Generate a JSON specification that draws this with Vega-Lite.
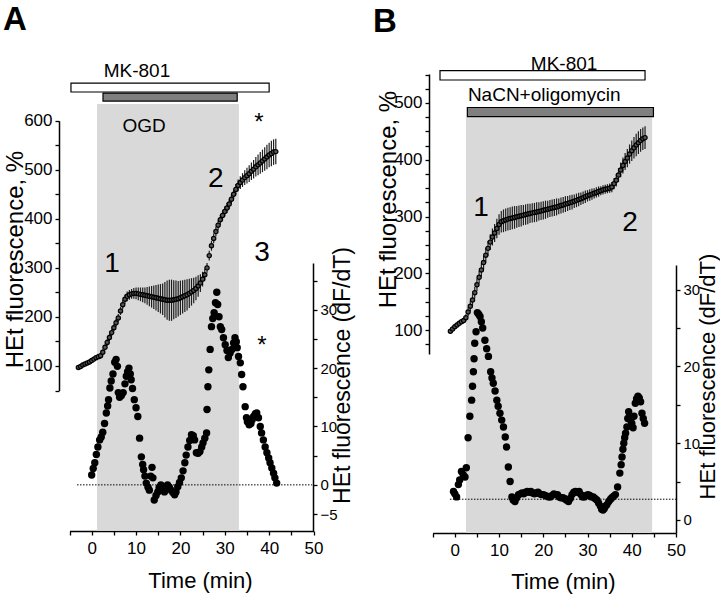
{
"$schema": "https://vega.github.io/schema/vega-lite/v6.json",
"width": 720, "height": 599, "autosize": {"type": "none"}, "padding": 0,
"background": "white",
"config": {"view": {"stroke": null},
  "font": "Liberation Sans, Arial, sans-serif",
  "axis": {"grid": false, "domainColor": "#000", "tickColor": "#000", "labelColor": "#000", "titleColor": "#000",
    "domainWidth": 1.5, "tickWidth": 1.3, "tickSize": 4, "labelFontSize": 17, "labelPadding": 3,
    "labelFont": "Liberation Sans, Arial, sans-serif", "zindex": 1,
    "titleFont": "Liberation Sans, Arial, sans-serif", "titleFontWeight": "normal",
    "labelOverlap": false, "labelFlush": false}},
"datasets": {
  "curveA": [
    {"t":-3,"v":97,"lo":93,"hi":101},{"t":-2.5,"v":99,"lo":95,"hi":103},{"t":-2,"v":102,"lo":98,"hi":106},{"t":-1.5,"v":104,"lo":100,"hi":108},
    {"t":-1,"v":106,"lo":102,"hi":110},{"t":-0.5,"v":108,"lo":104,"hi":112},{"t":0,"v":111,"lo":106,"hi":116},{"t":0.5,"v":114,"lo":109,"hi":119},
    {"t":1,"v":117,"lo":112,"hi":122},{"t":1.5,"v":119,"lo":114,"hi":124},{"t":2,"v":121,"lo":115,"hi":127},{"t":2.5,"v":128,"lo":122,"hi":134},
    {"t":3,"v":138,"lo":132,"hi":144},{"t":3.5,"v":148,"lo":141,"hi":155},{"t":4,"v":158,"lo":151,"hi":165},{"t":4.5,"v":168,"lo":161,"hi":175},
    {"t":5,"v":178,"lo":171,"hi":185},{"t":5.5,"v":188,"lo":180,"hi":196},{"t":6,"v":198,"lo":190,"hi":206},{"t":6.5,"v":212,"lo":204,"hi":220},
    {"t":7,"v":225,"lo":216,"hi":234},{"t":7.5,"v":236,"lo":227,"hi":245},{"t":8,"v":242,"lo":232,"hi":252},{"t":8.5,"v":245,"lo":235,"hi":255},
    {"t":9,"v":247,"lo":237,"hi":257},{"t":9.5,"v":248,"lo":237,"hi":259},{"t":10,"v":248,"lo":236,"hi":260},{"t":10.5,"v":247,"lo":234,"hi":260},
    {"t":11,"v":246,"lo":232,"hi":260},{"t":11.5,"v":245,"lo":230,"hi":260},{"t":12,"v":244,"lo":228,"hi":260},{"t":12.5,"v":243,"lo":225,"hi":261},
    {"t":13,"v":242,"lo":222,"hi":262},{"t":13.5,"v":241,"lo":219,"hi":263},{"t":14,"v":240,"lo":216,"hi":264},{"t":14.5,"v":239,"lo":213,"hi":265},
    {"t":15,"v":238,"lo":210,"hi":266},{"t":15.5,"v":237,"lo":207,"hi":267},{"t":16,"v":236,"lo":204,"hi":268},{"t":16.5,"v":235,"lo":199,"hi":271},
    {"t":17,"v":234,"lo":194,"hi":274},{"t":17.5,"v":234,"lo":192,"hi":276},{"t":18,"v":234,"lo":192,"hi":276},{"t":18.5,"v":235,"lo":195,"hi":275},
    {"t":19,"v":236,"lo":198,"hi":274},{"t":19.5,"v":237,"lo":201,"hi":273},{"t":20,"v":239,"lo":204,"hi":274},{"t":20.5,"v":241,"lo":207,"hi":275},
    {"t":21,"v":243,"lo":210,"hi":276},{"t":21.5,"v":245,"lo":213,"hi":277},{"t":22,"v":248,"lo":218,"hi":278},{"t":22.5,"v":251,"lo":223,"hi":279},
    {"t":23,"v":254,"lo":228,"hi":280},{"t":23.5,"v":258,"lo":234,"hi":282},{"t":24,"v":263,"lo":241,"hi":285},{"t":24.5,"v":269,"lo":251,"hi":287},
    {"t":25,"v":277,"lo":262,"hi":292},{"t":25.5,"v":286,"lo":274,"hi":298},{"t":26,"v":300,"lo":290,"hi":310},{"t":26.5,"v":325,"lo":315,"hi":335},
    {"t":27,"v":345,"lo":335,"hi":355},{"t":27.5,"v":360,"lo":350,"hi":370},{"t":28,"v":374,"lo":364,"hi":384},{"t":28.5,"v":387,"lo":377,"hi":397},
    {"t":29,"v":398,"lo":388,"hi":408},{"t":29.5,"v":407,"lo":397,"hi":417},{"t":30,"v":415,"lo":405,"hi":425},{"t":30.5,"v":422,"lo":412,"hi":432},
    {"t":31,"v":430,"lo":420,"hi":440},{"t":31.5,"v":440,"lo":430,"hi":450},{"t":32,"v":450,"lo":440,"hi":460},{"t":32.5,"v":460,"lo":449,"hi":471},
    {"t":33,"v":468,"lo":456,"hi":480},{"t":33.5,"v":474,"lo":461,"hi":487},{"t":34,"v":479,"lo":465,"hi":493},{"t":34.5,"v":484,"lo":469,"hi":499},
    {"t":35,"v":488,"lo":472,"hi":504},{"t":35.5,"v":492,"lo":475,"hi":509},{"t":36,"v":497,"lo":479,"hi":515},{"t":36.5,"v":501,"lo":482,"hi":520},
    {"t":37,"v":506,"lo":486,"hi":526},{"t":37.5,"v":510,"lo":489,"hi":531},{"t":38,"v":514,"lo":492,"hi":536},{"t":38.5,"v":518,"lo":495,"hi":541},
    {"t":39,"v":522,"lo":498,"hi":546},{"t":39.5,"v":526,"lo":501,"hi":551},{"t":40,"v":530,"lo":505,"hi":555},{"t":40.5,"v":533,"lo":507,"hi":559},
    {"t":41,"v":536,"lo":510,"hi":562},{"t":41.5,"v":537,"lo":511,"hi":563}],
  "dotsA": [
    {"t":0,"d":1.7},{"t":0.35,"d":2.8},{"t":0.7,"d":3.8},{"t":1.05,"d":5.2},{"t":1.4,"d":6.5},{"t":1.8,"d":7.7},{"t":2.15,"d":8.2},{"t":2.5,"d":9},
    {"t":2.9,"d":10.5},{"t":3.3,"d":12.3},{"t":3.6,"d":13.5},{"t":3.8,"d":14.6},{"t":4.1,"d":16.6},{"t":4.4,"d":17.8},{"t":4.8,"d":19},{"t":5.2,"d":21},
    {"t":5.5,"d":21.5},{"t":5.8,"d":20.3},{"t":6.0,"d":15.8},{"t":6.3,"d":15},{"t":6.7,"d":15.3},{"t":7.1,"d":15.8},{"t":7.5,"d":17.3},{"t":7.8,"d":18.6},
    {"t":8.1,"d":19.4},{"t":8.4,"d":20},{"t":8.7,"d":19},{"t":8.9,"d":18},{"t":9.2,"d":16.5},{"t":9.6,"d":14.6},{"t":10.0,"d":13.2},{"t":10.4,"d":11.7},
    {"t":10.8,"d":8},{"t":11.2,"d":4.8},{"t":11.5,"d":3.5},{"t":11.7,"d":2.6},{"t":12.0,"d":1.5},{"t":12.3,"d":0.3},{"t":12.7,"d":-0.4},{"t":13.0,"d":-0.9},
    {"t":13.3,"d":1.5},{"t":13.6,"d":3},{"t":13.8,"d":1.2},{"t":14.1,"d":-2.6},{"t":14.5,"d":-1.8},{"t":14.9,"d":-1.2},{"t":15.2,"d":-0.5},{"t":15.6,"d":0},
    {"t":16.0,"d":-0.6},{"t":16.4,"d":-1.2},{"t":16.8,"d":-0.5},{"t":17.1,"d":0},{"t":17.5,"d":-0.4},{"t":17.9,"d":-0.9},{"t":18.3,"d":-1.3},{"t":18.7,"d":-1.7},
    {"t":19.0,"d":-1.2},{"t":19.4,"d":-0.3},{"t":19.8,"d":0.4},{"t":20.2,"d":1.2},{"t":20.6,"d":2.4},{"t":21.0,"d":3.8},{"t":21.3,"d":5.1},{"t":21.7,"d":6.5},
    {"t":22.1,"d":7.6},{"t":22.5,"d":8.6},{"t":22.9,"d":8.4},{"t":23.2,"d":7.7},{"t":23.6,"d":5.5},{"t":24.0,"d":5.4},{"t":24.4,"d":5.7},{"t":24.8,"d":6.5},
    {"t":25.1,"d":7.2},{"t":25.5,"d":8},{"t":25.9,"d":8.9},{"t":26.0,"d":12.9},{"t":26.2,"d":16.8},{"t":26.4,"d":19.7},{"t":26.7,"d":23.2},{"t":27.0,"d":27.1},
    {"t":27.3,"d":28.5},{"t":27.6,"d":29.5},{"t":27.9,"d":31.2},{"t":28.2,"d":33.0},{"t":28.4,"d":30.9},{"t":28.7,"d":28.8},{"t":29.0,"d":27.1},{"t":29.3,"d":26.6},
    {"t":29.7,"d":25.2},{"t":30.1,"d":24.0},{"t":30.5,"d":23.0},{"t":30.8,"d":21.8},{"t":31.2,"d":22.6},{"t":31.6,"d":23.2},{"t":32.0,"d":24.3},{"t":32.3,"d":25.2},
    {"t":32.6,"d":24.5},{"t":32.8,"d":23.5},{"t":33.1,"d":22.0},{"t":33.5,"d":20.9},{"t":33.8,"d":18.9},{"t":34.1,"d":16.8},{"t":34.6,"d":13.4},{"t":34.9,"d":11.5},
    {"t":35.1,"d":10.8},{"t":35.5,"d":10.3},{"t":35.9,"d":10.5},{"t":36.2,"d":11.2},{"t":36.5,"d":11.7},{"t":36.9,"d":12.2},{"t":37.2,"d":12.3},{"t":37.6,"d":11.5},
    {"t":38.0,"d":10},{"t":38.3,"d":8.9},{"t":38.7,"d":7.7},{"t":39.1,"d":6.5},{"t":39.5,"d":5.5},{"t":39.9,"d":4.6},{"t":40.2,"d":3.8},{"t":40.6,"d":2.9},
    {"t":41.0,"d":2.0},{"t":41.3,"d":1.2},{"t":41.7,"d":0.3}],
  "curveB": [
    {"t":-1,"v":98,"lo":94,"hi":102},{"t":-0.5,"v":102,"lo":98,"hi":106},{"t":0,"v":106,"lo":102,"hi":110},{"t":0.5,"v":109,"lo":105,"hi":113},
    {"t":1,"v":112,"lo":108,"hi":116},{"t":1.5,"v":115,"lo":111,"hi":119},{"t":2,"v":117,"lo":112,"hi":122},{"t":2.5,"v":122,"lo":116,"hi":128},
    {"t":3,"v":132,"lo":124,"hi":140},{"t":3.5,"v":142,"lo":133,"hi":151},{"t":4,"v":153,"lo":143,"hi":163},{"t":4.5,"v":166,"lo":156,"hi":176},
    {"t":5,"v":180,"lo":169,"hi":191},{"t":5.5,"v":193,"lo":182,"hi":204},{"t":6,"v":206,"lo":194,"hi":218},{"t":6.5,"v":219,"lo":207,"hi":231},
    {"t":7,"v":232,"lo":219,"hi":245},{"t":7.5,"v":244,"lo":231,"hi":257},{"t":8,"v":255,"lo":241,"hi":269},{"t":8.5,"v":264,"lo":249,"hi":279},
    {"t":9,"v":271,"lo":255,"hi":287},{"t":9.5,"v":279,"lo":262,"hi":296},{"t":10,"v":286,"lo":268,"hi":304},{"t":10.5,"v":291,"lo":272,"hi":310},
    {"t":11,"v":292.5,"lo":272.5,"hi":312.5},{"t":11.5,"v":294,"lo":274,"hi":314},{"t":12,"v":295.5,"lo":275.5,"hi":315.5},{"t":12.5,"v":296.5,"lo":276.5,"hi":316.5},
    {"t":13,"v":297.5,"lo":277.5,"hi":317.5},{"t":13.5,"v":298.5,"lo":278.5,"hi":318.5},{"t":14,"v":299.5,"lo":280.5,"hi":318.5},{"t":14.5,"v":300.5,"lo":281.5,"hi":319.5},
    {"t":15,"v":301.5,"lo":282.5,"hi":320.5},{"t":15.5,"v":302.5,"lo":284.5,"hi":320.5},{"t":16,"v":303.5,"lo":285.5,"hi":321.5},{"t":16.5,"v":304.5,"lo":286.5,"hi":322.5},
    {"t":17,"v":305.5,"lo":288.5,"hi":322.5},{"t":17.5,"v":306.5,"lo":289.5,"hi":323.5},{"t":18,"v":307,"lo":290,"hi":324},{"t":18.5,"v":308,"lo":291,"hi":325},
    {"t":19,"v":309,"lo":293,"hi":325},{"t":19.5,"v":310,"lo":294,"hi":326},{"t":20,"v":311,"lo":295,"hi":327},{"t":20.5,"v":312,"lo":296,"hi":328},
    {"t":21,"v":313,"lo":298,"hi":328},{"t":21.5,"v":314,"lo":299,"hi":329},{"t":22,"v":315,"lo":300,"hi":330},{"t":22.5,"v":316,"lo":301,"hi":331},
    {"t":23,"v":317,"lo":302,"hi":332},{"t":23.5,"v":318,"lo":304,"hi":332},{"t":24,"v":319.5,"lo":305.5,"hi":333.5},{"t":24.5,"v":320.5,"lo":306.5,"hi":334.5},
    {"t":25,"v":322,"lo":308,"hi":336},{"t":25.5,"v":323,"lo":310,"hi":336},{"t":26,"v":324.5,"lo":311.5,"hi":337.5},{"t":26.5,"v":325.5,"lo":312.5,"hi":338.5},
    {"t":27,"v":327,"lo":315,"hi":339},{"t":27.5,"v":328.5,"lo":316.5,"hi":340.5},{"t":28,"v":330,"lo":318,"hi":342},{"t":28.5,"v":331.5,"lo":320.5,"hi":342.5},
    {"t":29,"v":333,"lo":322,"hi":344},{"t":29.5,"v":335,"lo":324,"hi":346},{"t":30,"v":336.5,"lo":326.5,"hi":346.5},{"t":30.5,"v":338,"lo":328,"hi":348},
    {"t":31,"v":339.5,"lo":329.5,"hi":349.5},{"t":31.5,"v":341,"lo":332,"hi":350},{"t":32,"v":342.5,"lo":333.5,"hi":351.5},{"t":32.5,"v":344,"lo":335,"hi":353},
    {"t":33,"v":345.5,"lo":337.5,"hi":353.5},{"t":33.5,"v":347,"lo":339,"hi":355},{"t":34,"v":348,"lo":340,"hi":356},{"t":34.5,"v":349,"lo":341,"hi":357},
    {"t":35,"v":350,"lo":342,"hi":358},{"t":35.5,"v":352,"lo":343,"hi":361},{"t":36,"v":358,"lo":348,"hi":368},{"t":36.5,"v":364,"lo":353,"hi":375},
    {"t":37,"v":373,"lo":361,"hi":385},{"t":37.5,"v":382,"lo":369,"hi":395},{"t":38,"v":390,"lo":376,"hi":404},{"t":38.5,"v":397,"lo":382,"hi":412},
    {"t":39,"v":403,"lo":387,"hi":419},{"t":39.5,"v":410,"lo":393,"hi":427},{"t":40,"v":416,"lo":398,"hi":434},{"t":40.5,"v":421,"lo":402,"hi":440},
    {"t":41,"v":426,"lo":406,"hi":446},{"t":41.5,"v":430,"lo":410,"hi":450},{"t":42,"v":434,"lo":414,"hi":454},{"t":42.5,"v":437,"lo":417,"hi":457},
    {"t":43,"v":439,"lo":419,"hi":459}],
  "dotsB": [
    {"t":-0.3,"d":3.7},{"t":0.0,"d":3.4},{"t":0.4,"d":3.0},{"t":0.8,"d":4.6},{"t":1.1,"d":5.2},{"t":1.5,"d":6.3},{"t":1.9,"d":5.9},{"t":2.3,"d":5.6},
    {"t":2.6,"d":6.8},{"t":3.0,"d":10.7},{"t":3.4,"d":13.5},{"t":3.8,"d":15.6},{"t":4.0,"d":17.4},{"t":4.2,"d":19.3},{"t":4.35,"d":21},{"t":4.5,"d":23.0},
    {"t":4.8,"d":24.5},{"t":5.1,"d":27.0},{"t":5.4,"d":26.8},{"t":5.7,"d":26.5},{"t":6.0,"d":25.8},{"t":6.3,"d":25.0},{"t":6.8,"d":23.4},{"t":7.2,"d":22.3},
    {"t":7.6,"d":21.3},{"t":8.1,"d":19.3},{"t":8.4,"d":18.5},{"t":8.7,"d":17.8},{"t":9.1,"d":16.8},{"t":9.5,"d":15.6},{"t":9.8,"d":14.8},{"t":10.2,"d":13.9},
    {"t":10.6,"d":13.0},{"t":11.0,"d":12.1},{"t":11.4,"d":10.8},{"t":11.7,"d":9.5},{"t":12.1,"d":6.9},{"t":12.5,"d":5.0},{"t":12.9,"d":3.0},{"t":13.2,"d":2.6},
    {"t":13.6,"d":2.4},{"t":14.0,"d":2.9},{"t":14.4,"d":3.3},{"t":14.8,"d":3.4},{"t":15.2,"d":3.5},{"t":15.6,"d":3.4},{"t":16.0,"d":3.6},{"t":16.4,"d":3.7},
    {"t":16.8,"d":3.6},{"t":17.2,"d":3.7},{"t":17.6,"d":3.5},{"t":18.0,"d":3.4},{"t":18.4,"d":3.5},{"t":18.8,"d":3.6},{"t":19.2,"d":3.4},{"t":19.6,"d":3.3},
    {"t":20.0,"d":3.3},{"t":20.4,"d":3.2},{"t":20.8,"d":3.1},{"t":21.2,"d":3.0},{"t":21.6,"d":3.0},{"t":22.0,"d":3.2},{"t":22.4,"d":3.4},{"t":22.8,"d":3.3},
    {"t":23.2,"d":3.3},{"t":23.6,"d":3.0},{"t":24.0,"d":2.9},{"t":24.4,"d":2.9},{"t":24.8,"d":2.8},{"t":25.2,"d":2.6},{"t":25.7,"d":2.4},{"t":26.1,"d":2.8},
    {"t":26.5,"d":3.3},{"t":26.9,"d":3.6},{"t":27.3,"d":3.7},{"t":27.7,"d":3.6},{"t":28.1,"d":3.7},{"t":28.5,"d":3.3},{"t":28.9,"d":3.0},{"t":29.3,"d":3.0},
    {"t":29.7,"d":3.2},{"t":30.1,"d":3.3},{"t":30.5,"d":3.2},{"t":30.9,"d":3.0},{"t":31.3,"d":3.0},{"t":31.7,"d":2.8},{"t":32.1,"d":2.6},{"t":32.5,"d":2.2},
    {"t":32.9,"d":1.8},{"t":33.2,"d":1.4},{"t":33.5,"d":1.3},{"t":33.8,"d":1.5},{"t":34.1,"d":1.8},{"t":34.4,"d":2.0},{"t":34.8,"d":2.4},{"t":35.2,"d":2.7},
    {"t":35.5,"d":2.9},{"t":35.9,"d":3.1},{"t":36.3,"d":3.3},{"t":36.8,"d":4.3},{"t":37.3,"d":6.1},{"t":37.6,"d":7.2},{"t":37.8,"d":8.2},{"t":38.0,"d":9.2},
    {"t":38.2,"d":10.0},{"t":38.4,"d":10.7},{"t":38.6,"d":11.3},{"t":38.9,"d":12.1},{"t":39.1,"d":13.2},{"t":39.3,"d":14.1},{"t":39.5,"d":13.5},{"t":39.7,"d":13.0},
    {"t":40.0,"d":12.6},{"t":40.3,"d":12.0},{"t":40.5,"d":13.5},{"t":40.8,"d":15.2},{"t":41.1,"d":15.8},{"t":41.4,"d":16.1},{"t":41.7,"d":15.9},{"t":42.0,"d":15.4},
    {"t":42.3,"d":13.9},{"t":42.6,"d":13.2},{"t":42.9,"d":12.6}],
  "shadeA": [{"t":1.2,"t2":33.2,"v":-236,"v2":634}],
  "bandsA": [{"name":"MK-801","kind":"blocker","t":-4.67,"t2":40.0,"v":658.5,"v2":676.8},
             {"name":"OGD","kind":"insult","t":2.55,"t2":32.8,"v":640.1,"v2":656.4}],
  "textA": [{"label":"A","kind":"panel","t":-20.0,"v":785},
            {"label":"MK-801","kind":"treatment","t":10.2,"v":702},
            {"label":"OGD","kind":"treatment","t":11.8,"v":589.5},
            {"label":"1","kind":"phase","t":4.6,"v":308},
            {"label":"2","kind":"phase","t":28.0,"v":481},
            {"label":"3","kind":"phase","t":38.4,"v":330},
            {"label":"*","kind":"sig","t":37.7,"v":608},
            {"label":"*","kind":"sig","t":38.4,"v":153}],
  "zeroA": [{"t":-3.3,"t2":49.7,"d":0}],
  "shadeB": [{"t":2.53,"t2":44.6,"v":-257,"v2":475}],
  "bandsB": [{"name":"MK-801","kind":"blocker","t":-3.35,"t2":43.0,"v":540.4,"v2":556.8},
             {"name":"NaCN+oligomycin","kind":"insult","t":2.83,"t2":44.9,"v":476,"v2":492}],
  "textB": [{"label":"B","kind":"panel","t":-18.5,"v":625},
            {"label":"MK-801","kind":"treatment","t":24.7,"v":569},
            {"label":"NaCN+oligomycin","kind":"treatment","t":20.2,"v":514},
            {"label":"1","kind":"phase","t":5.9,"v":315},
            {"label":"2","kind":"phase","t":39.6,"v":289}],
  "zeroB": [{"t":-1.1,"t2":50,"d":2.7}]
},
"layer": [
  {"data": {"name": "shadeA"}, "mark": {"type": "rect", "color": "#d9d9d9"},
   "encoding": {
     "x": {"field": "t", "type": "quantitative", "scale": {"domain": [-5, 50], "range": [69.5, 313.5], "nice": false, "zero": false},
           "axis": {"orient": "bottom", "offset": -68, "values": [-5,0,5,10,15,20,25,30,35,40,45,50],
                    "labelExpr": "datum.value % 10 === 0 && datum.value >= 0 ? datum.label : ''", "labelFontSize": 17,
                    "labelPadding": 5, "title": "Time (min)", "titleFontSize": 22, "titleX": 200, "titleY": 39, "titleAlign": "center", "titleBaseline": "top"}},
     "x2": {"field": "t2"},
     "y": {"field": "v", "type": "quantitative", "scale": {"domain": [50, 600], "range": [390.5, 120.7], "nice": false, "zero": false},
           "axis": {"orient": "left", "offset": -59, "values": [50,100,150,200,250,300,350,400,450,500,550,600],
                    "labelExpr": "datum.value % 100 === 0 ? datum.label : ''", "labelFontSize": 17,
                    "title": "HEt fluorescence, %", "titleFontSize": 24, "titleAngle": 270, "titleBaseline": "bottom", "titleAlign": "center",
                    "titleX": -32, "titleY": 259}},
     "y2": {"field": "v2"}}},
  {"data": {"name": "bandsA"}, "mark": {"type": "rect", "stroke": "#000", "strokeWidth": 1.2},
   "encoding": {
     "x": {"field": "t", "type": "quantitative", "scale": {"domain": [-5, 50], "range": [69.5, 313.5], "nice": false, "zero": false}, "axis": null},
     "x2": {"field": "t2"},
     "y": {"field": "v", "type": "quantitative", "scale": {"domain": [50, 600], "range": [390.5, 120.7], "nice": false, "zero": false}, "axis": null},
     "y2": {"field": "v2"},
     "fill": {"condition": {"test": "datum.kind === 'insult'", "value": "#7f7f7f"}, "value": "#ffffff"}}},
  {"data": {"name": "curveA"}, "mark": {"type": "rule", "color": "#1e1e1e", "strokeWidth": 1.2},
   "encoding": {
     "x": {"field": "t", "type": "quantitative", "scale": {"domain": [-5, 50], "range": [69.5, 313.5], "nice": false, "zero": false}, "axis": null},
     "y": {"field": "lo", "type": "quantitative", "scale": {"domain": [50, 600], "range": [390.5, 120.7], "nice": false, "zero": false}, "axis": null},
     "y2": {"field": "hi"}}},
  {"data": {"name": "curveA"}, "mark": {"type": "point", "shape": "circle", "filled": true, "fill": "#555", "stroke": "#000", "strokeWidth": 1.2, "size": 18, "opacity": 1},
   "encoding": {
     "x": {"field": "t", "type": "quantitative", "scale": {"domain": [-5, 50], "range": [69.5, 313.5], "nice": false, "zero": false}, "axis": null},
     "y": {"field": "v", "type": "quantitative", "scale": {"domain": [50, 600], "range": [390.5, 120.7], "nice": false, "zero": false}, "axis": null}}},
  {"data": {"name": "textA"}, "transform": [{"filter": "datum.kind === 'treatment'"}],
   "mark": {"type": "text", "fontSize": 19, "align": "center", "baseline": "middle", "color": "#000"},
   "encoding": {
     "x": {"field": "t", "type": "quantitative", "scale": {"domain": [-5, 50], "range": [69.5, 313.5], "nice": false, "zero": false}, "axis": null},
     "y": {"field": "v", "type": "quantitative", "scale": {"domain": [50, 600], "range": [390.5, 120.7], "nice": false, "zero": false}, "axis": null},
     "text": {"field": "label"}}},
  {"data": {"name": "textA"}, "transform": [{"filter": "datum.kind === 'phase'"}],
   "mark": {"type": "text", "fontSize": 28, "align": "center", "baseline": "middle", "color": "#000"},
   "encoding": {
     "x": {"field": "t", "type": "quantitative", "scale": {"domain": [-5, 50], "range": [69.5, 313.5], "nice": false, "zero": false}, "axis": null},
     "y": {"field": "v", "type": "quantitative", "scale": {"domain": [50, 600], "range": [390.5, 120.7], "nice": false, "zero": false}, "axis": null},
     "text": {"field": "label"}}},
  {"data": {"name": "textA"}, "transform": [{"filter": "datum.kind === 'sig'"}],
   "mark": {"type": "text", "fontSize": 24, "align": "center", "baseline": "middle", "dy": 6, "color": "#000"},
   "encoding": {
     "x": {"field": "t", "type": "quantitative", "scale": {"domain": [-5, 50], "range": [69.5, 313.5], "nice": false, "zero": false}, "axis": null},
     "y": {"field": "v", "type": "quantitative", "scale": {"domain": [50, 600], "range": [390.5, 120.7], "nice": false, "zero": false}, "axis": null},
     "text": {"field": "label"}}},
  {"data": {"name": "textA"}, "transform": [{"filter": "datum.kind === 'panel'"}],
   "mark": {"type": "text", "fontSize": 33, "fontWeight": "bold", "align": "left", "baseline": "alphabetic", "color": "#000"},
   "encoding": {
     "x": {"field": "t", "type": "quantitative", "scale": {"domain": [-5, 50], "range": [69.5, 313.5], "nice": false, "zero": false}, "axis": null},
     "y": {"field": "v", "type": "quantitative", "scale": {"domain": [50, 600], "range": [390.5, 120.7], "nice": false, "zero": false}, "axis": null},
     "text": {"field": "label"}}},
  {"data": {"name": "zeroA"}, "mark": {"type": "rule", "color": "#000", "strokeWidth": 1, "strokeDash": [1.5, 1.5]},
   "encoding": {
     "x": {"field": "t", "type": "quantitative", "scale": {"domain": [-5, 50], "range": [69.5, 313.5], "nice": false, "zero": false}, "axis": null},
     "x2": {"field": "t2"},
     "y": {"field": "d", "type": "quantitative", "scale": {"domain": [-7.9, 38], "range": [531, 263], "nice": false, "zero": false}, "axis": null}}},
  {"data": {"name": "dotsA"}, "mark": {"type": "point", "shape": "circle", "filled": true, "color": "#000", "size": 55, "opacity": 1},
   "encoding": {
     "x": {"field": "t", "type": "quantitative", "scale": {"domain": [-5, 50], "range": [69.5, 313.5], "nice": false, "zero": false}, "axis": null},
     "y": {"field": "d", "type": "quantitative", "scale": {"domain": [-7.9, 38], "range": [531, 263], "nice": false, "zero": false},
           "axis": {"orient": "right", "offset": -407, "values": [-5,0,5,10,15,20,25,30,35],
                    "labelExpr": "datum.value % 10 === 0 || datum.value === -5 ? datum.label : ''", "labelFontSize": 15,
                    "title": "HEt fluorescence (dF/dT)", "titleFontSize": 23, "titleAngle": 270, "titleBaseline": "top", "titleAlign": "center",
                    "titleX": 18, "titleY": 375}}}},
  {"data": {"name": "shadeB"}, "mark": {"type": "rect", "color": "#d9d9d9"},
   "encoding": {
     "x": {"field": "t", "type": "quantitative", "scale": {"domain": [-5, 50], "range": [432.7, 676], "nice": false, "zero": false},
           "axis": {"orient": "bottom", "offset": -66, "values": [-5,0,5,10,15,20,25,30,35,40,45,50],
                    "labelExpr": "datum.value % 10 === 0 && datum.value >= 0 ? datum.label : ''", "labelFontSize": 17,
                    "labelPadding": 5, "title": "Time (min)", "titleFontSize": 22, "titleX": 563, "titleY": 38, "titleAlign": "center", "titleBaseline": "top"}},
     "x2": {"field": "t2"},
     "y": {"field": "v", "type": "quantitative", "scale": {"domain": [58, 551], "range": [354, 74], "nice": false, "zero": false},
           "axis": {"orient": "left", "offset": -429, "values": [75,100,125,150,175,200,225,250,275,300,325,350,375,400,425,450,475,500,525,550],
                    "labelExpr": "datum.value % 100 === 0 ? datum.label : ''", "labelFontSize": 17,
                    "title": "HEt fluorescence, %", "titleFontSize": 24, "titleAngle": 270, "titleBaseline": "bottom", "titleAlign": "center",
                    "titleX": -29, "titleY": 199}},
     "y2": {"field": "v2"}}},
  {"data": {"name": "bandsB"}, "mark": {"type": "rect", "stroke": "#000", "strokeWidth": 1.2},
   "encoding": {
     "x": {"field": "t", "type": "quantitative", "scale": {"domain": [-5, 50], "range": [432.7, 676], "nice": false, "zero": false}, "axis": null},
     "x2": {"field": "t2"},
     "y": {"field": "v", "type": "quantitative", "scale": {"domain": [58, 551], "range": [354, 74], "nice": false, "zero": false}, "axis": null},
     "y2": {"field": "v2"},
     "fill": {"condition": {"test": "datum.kind === 'insult'", "value": "#7f7f7f"}, "value": "#ffffff"}}},
  {"data": {"name": "curveB"}, "mark": {"type": "rule", "color": "#1e1e1e", "strokeWidth": 1.2},
   "encoding": {
     "x": {"field": "t", "type": "quantitative", "scale": {"domain": [-5, 50], "range": [432.7, 676], "nice": false, "zero": false}, "axis": null},
     "y": {"field": "lo", "type": "quantitative", "scale": {"domain": [58, 551], "range": [354, 74], "nice": false, "zero": false}, "axis": null},
     "y2": {"field": "hi"}}},
  {"data": {"name": "curveB"}, "mark": {"type": "point", "shape": "circle", "filled": true, "fill": "#555", "stroke": "#000", "strokeWidth": 1.2, "size": 18, "opacity": 1},
   "encoding": {
     "x": {"field": "t", "type": "quantitative", "scale": {"domain": [-5, 50], "range": [432.7, 676], "nice": false, "zero": false}, "axis": null},
     "y": {"field": "v", "type": "quantitative", "scale": {"domain": [58, 551], "range": [354, 74], "nice": false, "zero": false}, "axis": null}}},
  {"data": {"name": "textB"}, "transform": [{"filter": "datum.kind === 'treatment'"}],
   "mark": {"type": "text", "fontSize": 19, "align": "center", "baseline": "middle", "color": "#000"},
   "encoding": {
     "x": {"field": "t", "type": "quantitative", "scale": {"domain": [-5, 50], "range": [432.7, 676], "nice": false, "zero": false}, "axis": null},
     "y": {"field": "v", "type": "quantitative", "scale": {"domain": [58, 551], "range": [354, 74], "nice": false, "zero": false}, "axis": null},
     "text": {"field": "label"}}},
  {"data": {"name": "textB"}, "transform": [{"filter": "datum.kind === 'phase'"}],
   "mark": {"type": "text", "fontSize": 28, "align": "center", "baseline": "middle", "color": "#000"},
   "encoding": {
     "x": {"field": "t", "type": "quantitative", "scale": {"domain": [-5, 50], "range": [432.7, 676], "nice": false, "zero": false}, "axis": null},
     "y": {"field": "v", "type": "quantitative", "scale": {"domain": [58, 551], "range": [354, 74], "nice": false, "zero": false}, "axis": null},
     "text": {"field": "label"}}},
  {"data": {"name": "textB"}, "transform": [{"filter": "datum.kind === 'panel'"}],
   "mark": {"type": "text", "fontSize": 33, "fontWeight": "bold", "align": "left", "baseline": "alphabetic", "color": "#000"},
   "encoding": {
     "x": {"field": "t", "type": "quantitative", "scale": {"domain": [-5, 50], "range": [432.7, 676], "nice": false, "zero": false}, "axis": null},
     "y": {"field": "v", "type": "quantitative", "scale": {"domain": [58, 551], "range": [354, 74], "nice": false, "zero": false}, "axis": null},
     "text": {"field": "label"}}},
  {"data": {"name": "zeroB"}, "mark": {"type": "rule", "color": "#000", "strokeWidth": 1, "strokeDash": [1.5, 1.5]},
   "encoding": {
     "x": {"field": "t", "type": "quantitative", "scale": {"domain": [-5, 50], "range": [432.7, 676], "nice": false, "zero": false}, "axis": null},
     "x2": {"field": "t2"},
     "y": {"field": "d", "type": "quantitative", "scale": {"domain": [-1.7, 33.2], "range": [533, 265], "nice": false, "zero": false}, "axis": null}}},
  {"data": {"name": "dotsB"}, "mark": {"type": "point", "shape": "circle", "filled": true, "color": "#000", "size": 55, "opacity": 1},
   "encoding": {
     "x": {"field": "t", "type": "quantitative", "scale": {"domain": [-5, 50], "range": [432.7, 676], "nice": false, "zero": false}, "axis": null},
     "y": {"field": "d", "type": "quantitative", "scale": {"domain": [-1.7, 33.2], "range": [533, 265], "nice": false, "zero": false},
           "axis": {"orient": "right", "offset": -44, "values": [0,5,10,15,20,25,30],
                    "labelExpr": "datum.value % 10 === 0 ? datum.label : ''", "labelFontSize": 15,
                    "title": "HEt fluorescence (dF/dT)", "titleFontSize": 22, "titleAngle": 270, "titleBaseline": "top", "titleAlign": "center",
                    "titleX": 21, "titleY": 376}}}}
],
"resolve": {"scale": {"x": "independent", "y": "independent"}}
}
